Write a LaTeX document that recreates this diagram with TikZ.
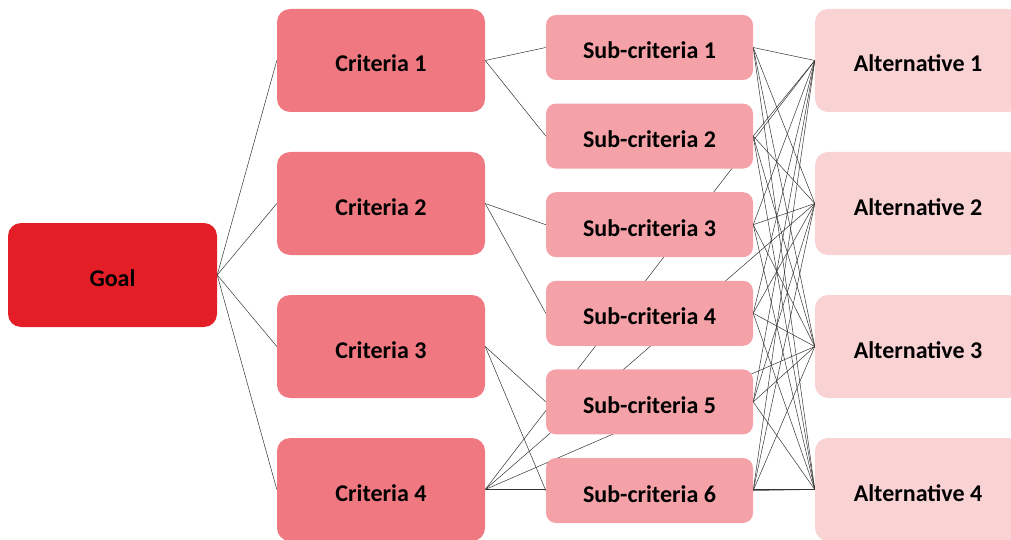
\documentclass[tikz,border=0pt]{standalone}
\usepackage{fontspec}
\setmainfont{Carlito}
\usetikzlibrary{backgrounds}
\definecolor{goalred}{RGB}{228,30,38}
\definecolor{critpink}{RGB}{240,120,128}
\definecolor{subpink}{RGB}{244,162,168}
\definecolor{altpink}{RGB}{249,210,212}
\tikzset{
  box/.style={rounded corners=13pt, inner sep=0pt, align=center,
    text height=23pt, text depth=0pt,
    font=\bfseries\fontsize{24}{28}\selectfont, text=black},
  goalbox/.style={box, fill=goalred, minimum width=209pt, minimum height=104pt},
  critbox/.style={box, fill=critpink, minimum width=208pt, minimum height=103pt},
  subbox/.style={box, fill=subpink, minimum width=207pt, minimum height=65pt, rounded corners=10pt},
  altbox/.style={box, fill=altpink, minimum width=206pt, minimum height=103pt},
  link/.style={draw=black!80, line width=0.5pt}
}
\begin{document}
\begin{tikzpicture}[x=1pt, y=-1pt]
\useasboundingbox (0,0) rectangle (1011,540);
\clip (0,0) rectangle (1011,540);

% boxes
\node[goalbox] (g) at (112.5,275) {Goal};
\foreach \i/\y in {1/60.5, 2/203.5, 3/346.5, 4/489.5}{
  \node[critbox] (c\i) at (381,\y) {Criteria \i};
  \node[altbox] (a\i) at (918,\y) {Alternative \i};
}
\foreach \i/\y in {1/47.5, 2/136.1, 3/224.7, 4/313.3, 5/401.9, 6/490.5}{
  \node[subbox] (s\i) at (649.5,\y) {Sub-criteria \i};
}

% connectors, kept behind the boxes
\begin{pgfonlayer}{background}
  % goal to every criterion
  \foreach \i in {1,...,4}{ \draw[link] (g.east) -- (c\i.west); }
  % criteria to their sub-criteria
  \draw[link] (c1.east) -- (s1.west);
  \draw[link] (c1.east) -- (s2.west);
  \draw[link] (c2.east) -- (s3.west);
  \draw[link] (c2.east) -- (s4.west);
  \draw[link] (c3.east) -- (s5.west);
  \draw[link] (c3.east) -- (s6.west);
  % criterion 4 rates the alternatives directly
  \foreach \k in {1,...,4}{ \draw[link] (c4.east) -- (a\k.west); }
  % every sub-criterion to every alternative
  \foreach \j in {1,...,6}{
    \foreach \k in {1,...,4}{ \draw[link] (s\j.east) -- (a\k.west); }
  }
\end{pgfonlayer}
\end{tikzpicture}
\end{document}
